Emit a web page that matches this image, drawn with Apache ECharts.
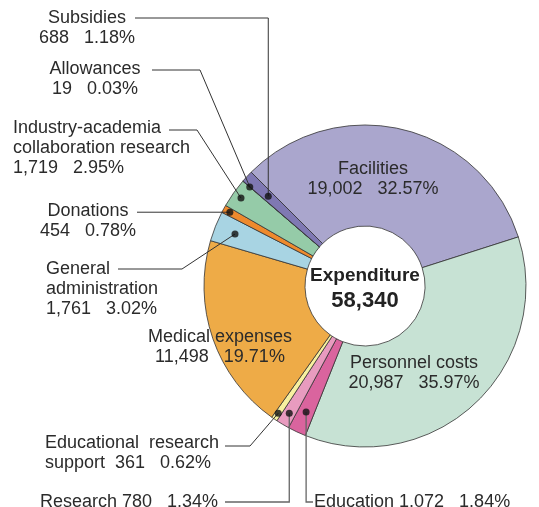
<!DOCTYPE html>
<html><head><meta charset="utf-8">
<script src="https://cdn.jsdelivr.net/npm/echarts@6/dist/echarts.min.js"></script>
<style>html,body{margin:0;padding:0;background:#fff}#c{width:539px;height:507px}</style>
</head><body><div id="c"></div>
<script>
// ---- data ----
const categories = ['Facilities','Personnel costs','Education','Research','Educational research support','Medical expenses','General administration','Donations','Industry-academia collaboration research','Allowances','Subsidies'];
const values = [19002, 20987, 1072, 780, 361, 11498, 1761, 454, 1719, 19, 688];
const percents = ['32.57%','35.97%','1.84%','1.34%','0.62%','19.71%','3.02%','0.78%','2.95%','0.03%','1.18%'];
const centerTitle = 'Expenditure';
const centerTotal = '58,340';

// ---- presentation ----
const displayNames = ['Facilities','Personnel costs','Education','Research','Educational  research\nsupport','Medical expenses','General\nadministration','Donations','Industry-academia\ncollaboration research','Allowances','Subsidies'];
const nameSep = ['\n','\n',' ',' ','  ','\n','\n','\n','\n','\n','\n'];
const colors = ['#aaa6cd','#c7e2d4','#da649e','#e89bbf','#f7f0a0','#eeab47','#a8d4e3','#ee8a2d','#95cba8','#6f68a8','#7f78b3'];
const CX = 365, CY = 286, R0 = 60, R1 = 161, START = 135;
const layout = [
  {x:373, y:159, align:'center'},
  {x:414, y:353, align:'center'},
  {x:314, y:492, align:'left',   r:139, vert:true, ey:502, ex:313, lc:'#666'},
  {x:218, y:492, align:'right',  r:148, vert:true, ey:502, ex:225, lc:'#666'},
  {x:45,  y:433, align:'left',   r:154, elbow:[250,446], ex:225},
  {x:220, y:327, align:'center'},
  {x:46,  y:259, align:'left',   r:140, elbow:[182,269], ex:118},
  {x:88,  y:201, align:'center', r:154, horiz:true, ex:137},
  {x:13,  y:118, align:'left',   r:152, elbow:[197,130], ex:169},
  {x:95,  y:59,  align:'center', r:152, elbow:[200,70], ex:152},
  {x:87,  y:8,   align:'center', r:132, vert:true, ey:18, ex:135}
];

const total = values.reduce((a,b)=>a+b,0);
const mids = [];
let cum = 0;
values.forEach(v => { mids.push(cum + v/2); cum += v; });

const pieData = categories.map((c,i) => ({
  name: c,
  value: values[i],
  itemStyle: {color: colors[i]},
  label: {align: layout[i].align}
}));

const dotData = [];
layout.forEach((l,i) => { if (l.r !== undefined) dotData.push([l.r, mids[i]]); });

const chart = echarts.init(document.getElementById('c'), null, {renderer:'canvas'});
chart.setOption({
  animation: false,
  backgroundColor: '#fff',
  polar: {center:[CX, CY], radius: R1},
  angleAxis: {type:'value', min:0, max: total, startAngle: START, clockwise: true, show:false},
  radiusAxis: {type:'value', min:0, max: R1, show:false},
  graphic: [{
    id: 'center',
    type:'text', x: CX, y: CY + 2, z: 100,
    style: {
      text: '{a|' + centerTitle + '}\n{b|' + centerTotal + '}',
      align:'center', verticalAlign:'middle',
      rich: {
        a: {fontFamily:'Liberation Sans, Arial, sans-serif', fontWeight:'bold', fontSize:19, lineHeight:25, fill:'#222', align:'center'},
        b: {fontFamily:'Liberation Sans, Arial, sans-serif', fontWeight:'bold', fontSize:22, lineHeight:25, fill:'#222', align:'center'}
      }
    }
  }],
  series: [{
    type:'pie',
    center:[CX, CY],
    radius:[R0, R1],
    startAngle: START,
    clockwise: true,
    avoidLabelOverlap: false,
    silent: true,
    itemStyle: {borderColor:'#333', borderWidth:0.8},
    label: {
      show: true,
      position: 'outside',
      fontFamily: 'Liberation Sans, Arial, sans-serif',
      fontSize: 18,
      lineHeight: 20,
      color: '#2b2b2b',
      verticalAlign: 'top',
      formatter: p => displayNames[p.dataIndex] + nameSep[p.dataIndex] + values[p.dataIndex].toLocaleString('en-US') + '   ' + percents[p.dataIndex]
    },
    labelLine: {show:false},
    labelLayout: function(params){
      const l = layout[params.dataIndex];
      return {x: l.x, y: l.y, align: l.align, verticalAlign: 'top'};
    },
    data: pieData
  }, {
    type:'scatter',
    coordinateSystem:'polar',
    symbol:'circle',
    symbolSize: 7,
    silent: true,
    z: 20,
    itemStyle: {color:'#111'},
    data: dotData
  }]
});

// leader lines, anchored at dots located through the polar scales
const lines = [];
layout.forEach((l,i) => {
  if (l.r === undefined) return;
  const d = chart.convertToPixel({polarIndex:0}, [l.r, mids[i]]);
  let pts;
  if (l.vert) pts = [d, [d[0], l.ey], [l.ex, l.ey]];
  else if (l.horiz) pts = [d, [l.ex, d[1]]];
  else pts = [d, l.elbow, [l.ex, l.elbow[1]]];
  lines.push({
    id: 'leader' + i, type:'polyline', z: 10, silent: true,
    shape: {points: pts},
    style: {stroke: l.lc || '#333', lineWidth: l.lc ? 1.3 : 1, fill: null}
  });
});
chart.setOption({graphic: lines});
</script>
</body></html>
